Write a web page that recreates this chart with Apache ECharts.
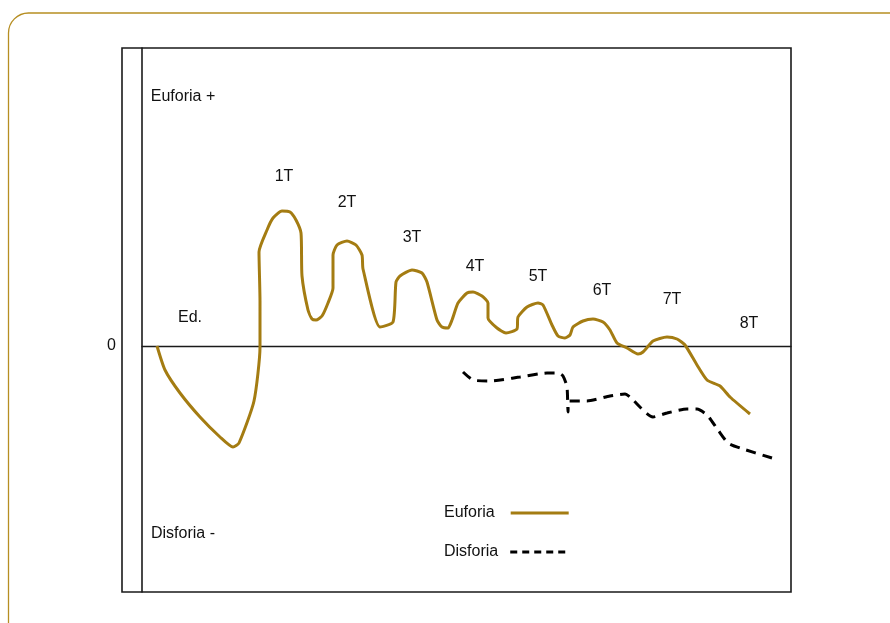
<!DOCTYPE html>
<html>
<head>
<meta charset="utf-8">
<script src="https://cdn.jsdelivr.net/npm/echarts@6/dist/echarts.min.js"></script>
<style>
  html, body { margin: 0; padding: 0; background: #fff; }
  #main { width: 890px; height: 623px; }
</style>
</head>
<body>
<div id="main"></div>
<script>
  // curva de euforia: [x, y] (x = tempo, y = humor; 0 = linha neutra)
  var euforiaData = [
    [15, 0], [23, -24], [38, -47], [58, -71], [78, -91], [91, -101], [97, -97],
    [112, -55], [118, -1], [118, 45], [117, 94], [125, 116], [131, 128], [140, 135],
    [148, 134], [154, 126], [159, 113], [160, 70], [166, 36], [170, 27], [174, 26],
    [180, 30], [186, 43], [191, 58], [191, 91], [195, 101], [205, 105], [214, 101],
    [220, 91], [221, 77], [238, 19], [251, 24], [254, 64], [258, 70], [270, 76],
    [280, 73], [285, 64], [295, 26], [300, 19], [306, 18], [310, 26], [316, 43],
    [325, 53], [331, 54], [340, 50], [346, 43], [346, 28], [355, 18], [364, 13],
    [375, 17], [376, 29], [385, 39], [396, 43], [401, 41], [410, 21], [416, 10],
    [423, 8], [428, 11], [431, 19], [441, 25], [451, 27], [461, 24], [468, 16],
    [475, 3], [485, -2], [496, -8], [501, -6], [511, 5], [525, 9], [535, 7],
    [543, 1], [555, -19], [565, -34], [578, -40], [588, -51], [608, -68]
  ];
  // curva de disforia
  var disforiaData = [
    [321, -26], [331, -34], [348, -35], [378, -31], [405, -27], [416, -27],
    [421, -30], [425, -41], [426, -66], [427, -55], [445, -55], [468, -50],
    [483, -48], [488, -51], [511, -71], [525, -67], [545, -63], [555, -63],
    [565, -69], [576, -84], [586, -97], [598, -102], [630, -112]
  ];
  // rótulos do gráfico
  var labelNames = ['Euforia +', 'Disforia -', 'Ed.', '1T', '2T', '3T', '4T', '5T', '6T', '7T', '8T'];
  var labelX = [41, 41, 48, 142, 205, 270, 333, 396, 460, 530, 607];
  var labelY = [249, -188, 28, 169, 143, 108, 79, 69, 55, 46, 22];
  var yTicks = [0];

  var FONT = "'Liberation Sans', Arial, sans-serif";
  var GOLD = '#a47c12';

  var labelData = [];
  for (var i = 0; i < labelNames.length; i++) {
    labelData.push({ name: labelNames[i], value: [labelX[i], labelY[i]] });
  }

  var myChart = echarts.init(document.getElementById('main'));
  var option = {
    animation: false,
    backgroundColor: '#fff',
    textStyle: { fontFamily: FONT },
    grid: { left: 142, right: 99, top: 48, bottom: 31 },
    graphic: [
      {
        type: 'rect',
        shape: { x: 8.5, y: 13, width: 950, height: 700, r: 20 },
        style: { fill: 'none', stroke: '#b68e22', lineWidth: 1.3 },
        silent: true
      },
      {
        type: 'rect',
        shape: { x: 122, y: 48, width: 669, height: 544 },
        style: { fill: 'none', stroke: '#1a1a1a', lineWidth: 1.6 },
        silent: true
      }
    ],
    legend: [
      {
        left: 444, top: 505, padding: 0, orient: 'horizontal', align: 'right',
        itemWidth: 58, itemHeight: 14,
        itemStyle: { opacity: 0, borderWidth: 0 },
        lineStyle: { width: 3 },
        textStyle: { fontSize: 16, color: '#111', fontFamily: FONT, padding: [0, 11, 0, 0] },
        data: ['Euforia'], selectedMode: false
      },
      {
        left: 444, top: 544, padding: 0, orient: 'horizontal', align: 'right',
        itemWidth: 55, itemHeight: 14,
        itemStyle: { opacity: 0, borderWidth: 0 },
        lineStyle: { width: 3, type: [7, 5] },
        textStyle: { fontSize: 16, color: '#111', fontFamily: FONT, padding: [0, 7, 0, 0] },
        data: ['Disforia'], selectedMode: false
      }
    ],
    xAxis: {
      type: 'value', min: 0, max: 649,
      axisLine: { show: true, onZero: true, lineStyle: { color: '#1a1a1a', width: 1.3 } },
      axisTick: { show: false },
      axisLabel: { show: false },
      splitLine: { show: false }
    },
    yAxis: {
      type: 'value', min: -246, max: 298,
      axisLine: { show: true, onZero: false, lineStyle: { color: '#1a1a1a', width: 1.6 } },
      axisTick: { show: false },
      axisLabel: { customValues: yTicks, margin: 26, fontSize: 16, color: '#111', fontFamily: FONT },
      splitLine: { show: false }
    },
    series: [
      {
        name: 'Euforia', type: 'line', data: euforiaData,
        symbol: 'none', smooth: 0.2,
        lineStyle: { color: GOLD, width: 3 },
        itemStyle: { color: GOLD }
      },
      {
        name: 'Disforia', type: 'line', data: disforiaData,
        symbol: 'none', smooth: 0.2,
        lineStyle: { color: '#000', width: 3, type: [10, 7] },
        itemStyle: { color: '#000' }
      },
      {
        name: 'rotulos', type: 'scatter', data: labelData,
        symbolSize: 1, silent: true,
        itemStyle: { color: 'rgba(0,0,0,0)', opacity: 1 },
        label: {
          show: true, position: 'inside', formatter: '{b}',
          fontSize: 16, color: '#111', fontFamily: FONT
        }
      }
    ]
  };
  myChart.setOption(option, true);
</script>
</body>
</html>
